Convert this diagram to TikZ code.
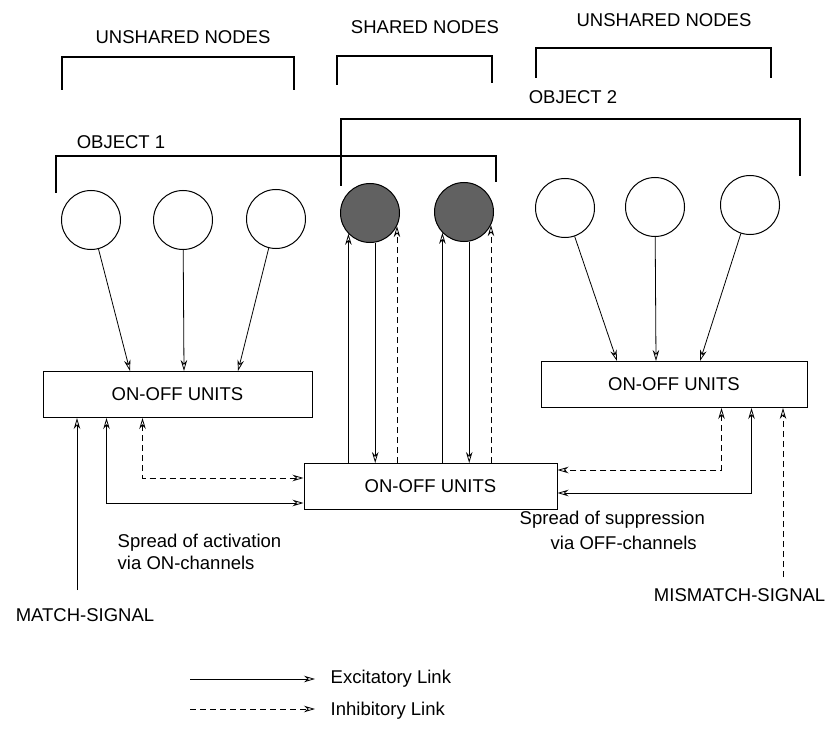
\documentclass[tikz,border=0pt]{standalone}
\usepackage{fontspec}
\setmainfont{Liberation Sans}
\usetikzlibrary{arrows.meta, positioning}

\begin{document}
\begin{tikzpicture}[x=1pt, y=-1pt, line width=0.8pt,
    font=\fontsize{18.5}{22}\selectfont,
    >={Stealth[open, length=11pt, width=6.5pt]},
    unit/.style={draw, minimum height=46pt, line width=1pt},
    plain/.style={draw, circle, minimum size=59pt, line width=1pt},
    shared/.style={plain, fill=black!62},
    bracket/.style={line width=1.3pt},
    inh/.style={->, dash pattern=on 6pt off 4pt}]
    \useasboundingbox (0,0) rectangle (826,735);

    % node groups
    \node (ul) at (183,37) {UNSHARED NODES};
    \node (sn) at (425,27) {SHARED NODES};
    \node (ur) at (664,20) {UNSHARED NODES};
    \draw[bracket] (62,90) |- (294,57) -- (294,90);
    \draw[bracket] (337,85) |- (492,56) -- (492,83);
    \draw[bracket] (536,78) |- (771,48) -- (771,78);

    % objects
    \node (ob2) at (573,97) {OBJECT 2};
    \draw[bracket] (341,186) |- (800,119) -- (800,176);
    \node (ob1) at (121,142) {OBJECT 1};
    \draw[bracket] (56,193) |- (496,156) -- (496,182);

    \node[plain] (u1) at (91,220) {};
    \node[plain] (u2) at (183,220) {};
    \node[plain] (u3) at (276,219) {};
    \node[shared] (s1) at (370,213) {};
    \node[shared] (s2) at (464,212) {};
    \node[plain] (v1) at (565,208) {};
    \node[plain] (v2) at (655,207) {};
    \node[plain] (v3) at (750,205) {};

    \node[unit, minimum width=269pt] (lbox) at (177.5,394.5) {ON-OFF UNITS};
    \node[unit, minimum width=253pt] (mbox) at (430.5,486.5) {ON-OFF UNITS};
    \node[unit, minimum width=266pt] (rbox) at (674,384.5) {ON-OFF UNITS};

    \draw[->] (u1) -- ([xshift=-47.5pt]lbox.north);
    \draw[->] (u2) -- ([xshift=6.5pt]lbox.north);
    \draw[->] (u3) -- ([xshift=60.5pt]lbox.north);
    \draw[->] (v1) -- ([xshift=-57pt]rbox.north);
    \draw[->] (v2) -- ([xshift=-18pt]rbox.north);
    \draw[->] (v3) -- ([xshift=26pt]rbox.north);

    \foreach \s in {s1,s2} {
        \draw[->] (\s.224 |- mbox.north) -- (\s.224);
        \draw[->] (\s.280) -- (\s.280 |- mbox.north);
        \draw[inh] (\s.334 |- mbox.north) -- (\s.334);
    }

    % ON / OFF channels
    \draw[<->] ([xshift=64pt]lbox.south west) |- ([yshift=-16.5pt]mbox.west);
    \draw[inh, <->] ([xshift=100pt]lbox.south west) |- ([yshift=8.5pt]mbox.west);
    \draw[inh, <->] ([xshift=181pt]rbox.south west) |- ([yshift=16.5pt]mbox.east);
    \draw[<->] ([xshift=211pt]rbox.south west) |- ([yshift=-6.5pt]mbox.east);

    \node[anchor=west, align=left] (act) at (114,552) {Spread of activation\\via ON-channels};
    \node[anchor=west, align=left] (sup) at (516,530) {Spread of suppression\\[3pt]\hspace*{31pt}via OFF-channels};

    % signals
    \node (match) at (85,615) {MATCH-SIGNAL};
    \node[anchor=east] (mismatch) at (829,595) {MISMATCH-SIGNAL};
    \coordinate (mtail) at (77,590);
    \coordinate (mmtail) at (783,577);
    \draw[->] (mtail) -- (mtail |- lbox.south);
    \draw[inh] (mmtail) -- (mmtail |- rbox.south);

    % legend
    \coordinate (lx) at (190,679);
    \node[anchor=west] (exlink) at (327,679) {Excitatory Link};
    \draw[->, shorten >=12pt] (lx) -- (exlink.west);
    \coordinate (ly) at (190,709);
    \node[anchor=west] (inlink) at (327,711) {Inhibitory Link};
    \draw[inh] (ly) -- ([xshift=-12pt]ly -| inlink.west);
\end{tikzpicture}
\end{document}
